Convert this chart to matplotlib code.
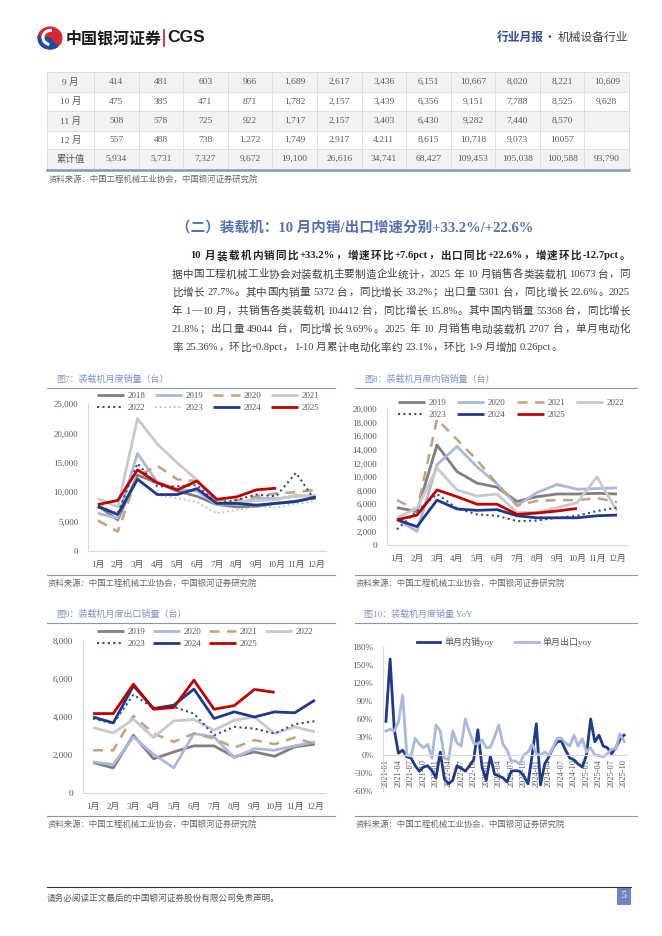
import re
import numpy as np
import matplotlib.pyplot as plt
from matplotlib.patches import Rectangle, Circle, Wedge, Arc
from matplotlib.lines import Line2D

# ---- 表格数据 ----
row_labels = ['9 月', '10 月', '11 月', '12 月', '累计值']
sep_vals = ['414', '481', '603', '966', '1,689', '2,617', '3,436', '6,151', '10,667', '8,020', '8,221', '10,609']
oct_vals = ['475', '385', '471', '871', '1,782', '2,157', '3,439', '6,356', '9,151', '7,788', '8,525', '9,628']
nov_vals = ['508', '578', '725', '922', '1,717', '2,157', '3,403', '6,430', '9,282', '7,440', '8,570', '']
dec_vals = ['557', '488', '738', '1,272', '1,749', '2,917', '4,211', '8,615', '10,718', '9,073', '10057', '']
cum_vals = ['5,934', '5,731', '7,327', '9,672', '19,100', '26,616', '34,741', '68,427', '109,453', '105,038', '100,588', '93,790']

months = ['1月', '2月', '3月', '4月', '5月', '6月', '7月', '8月', '9月', '10月', '11月', '12月']

# 图7 装载机月度销量
years7 = ['2018', '2019', '2020', '2021', '2022', '2023', '2024', '2025']
t2018 = [7700, 5300, 12900, 11600, 10200, 9300, 7900, 7500, 7600, 8100, 8500, 9000]
t2019 = [6400, 5600, 16600, 11700, 10500, 10200, 7900, 8000, 9000, 8900, 9300, 9400]
t2020 = [5200, 3300, 12800, 14500, 12200, 11900, 8600, 8600, 9300, 9800, 10000, 10400]
t2021 = [8900, 7500, 22500, 18200, 15000, 12100, 8300, 8200, 8600, 8700, 9500, 9300]
t2022 = [7400, 6400, 14900, 11000, 11000, 11200, 8100, 8700, 9600, 9300, 13300, 8400]
t2023 = [8200, 6200, 12400, 9500, 9000, 8300, 6400, 7000, 7500, 7400, 8000, 8500]
t2024 = [7600, 6200, 12200, 9600, 9600, 10600, 8100, 8100, 7800, 8100, 8400, 9200]
t2025 = [7900, 8600, 13800, 11600, 10400, 11900, 8800, 9200, 10400, 10673]

# 图8 装载机月度内销销量
years8 = ['2019', '2020', '2021', '2022', '2023', '2024', '2025']
d2019 = [5500, 4900, 14700, 10800, 9100, 8500, 6400, 7100, 7500, 7500, 7600, 7500]
d2020 = [3800, 2000, 11800, 14500, 11500, 9000, 5800, 7700, 8900, 8200, 8300, 8400]
d2021 = [6600, 5100, 18500, 15500, 12500, 9000, 5800, 6500, 6600, 6600, 6900, 6300]
d2022 = [4000, 5400, 11300, 8100, 7200, 7500, 4800, 4800, 5500, 6200, 10000, 5000]
d2023 = [2300, 5000, 7500, 5400, 4500, 4300, 3500, 3600, 4000, 4300, 5000, 5500]
d2024 = [3700, 2700, 6600, 5300, 5100, 5200, 4300, 4000, 4000, 4000, 4300, 4400]
d2025 = [3700, 4400, 8100, 7100, 6000, 6000, 4500, 4700, 5000, 5372]

# 图9 装载机月度出口销量
e2019 = [1600, 1320, 3040, 1800, 2160, 2480, 2480, 1900, 2160, 1930, 2430, 2570]
e2020 = [1630, 1500, 2950, 2040, 1320, 3130, 2950, 1850, 2340, 2250, 2480, 2690]
e2021 = [2250, 2250, 4060, 3130, 2690, 3130, 2860, 2390, 2780, 2570, 2920, 2570]
e2022 = [3440, 3160, 3880, 2920, 3800, 3870, 3300, 3830, 4000, 3130, 3480, 3220]
e2023 = [3920, 3650, 5180, 4450, 4530, 4180, 3040, 3480, 3390, 3130, 3620, 3780]
e2024 = [4000, 3690, 5640, 4450, 4620, 5470, 3920, 4270, 4000, 4270, 4220, 4890]
e2025 = [4180, 4180, 5730, 4410, 4500, 5940, 4410, 4600, 5450, 5301]

# 图10 YoY (2021-01 ~ 2025-10)
yoy_labels = ['2021-01', '2021-04', '2021-07', '2021-10', '2022-01', '2022-04', '2022-07', '2022-10',
              '2023-01', '2023-04', '2023-07', '2023-10', '2024-01', '2024-04', '2024-07', '2024-10',
              '2025-01', '2025-04', '2025-07', '2025-10']
dom_yoy = [56, 160, 42, 3, 8, -3,
           -5, -18, -27, -20, -18, -26,
           -38, 5, -40, -48, -42, -18,
           -22, -27, -18, -8, 42, -20,
           -42, -2, -32, -35, -38, -45,
           -27, -26, -27, -35, -48, 0,
           52, -50, -15, -3, 12, 22,
           23, 8, -5, -8, -15, -20,
           0, 60, 22, 33, 15, 12,
           2, 12, 25.6, 33.2]
exp_yoy = [40, 43, 40, 55, 100, 0,
           -2, 28, 18, 12, 18, -5,
           50, 40, -5, -8, 40, 20,
           15, 60, 38, 20, 18, 25,
           12, 13, 30, 50, 18, 8,
           -10, -10, -15, 0, 5, 18,
           2, 0, 5, 0, 12, 28,
           28, 20, 15, 33, 15, 27,
           5, 12, 0, -1, -3, 2,
           10, 10, 35.3, 22.6]

body_lines = [
    '10 月装载机内销同比+33.2%，增速环比+7.6pct，出口同比+22.6%，增速环比-12.7pct。',
    '据中国工程机械工业协会对装载机主要制造企业统计，2025 年 10 月销售各类装载机 10673 台，同',
    '比增长 27.7%。其中国内销量 5372 台，同比增长 33.2%；出口量 5301 台，同比增长 22.6%。2025',
    '年 1—10 月，共销售各类装载机 104412 台，同比增长 15.8%。其中国内销量 55368 台，同比增长',
    '21.8%；出口量 49044 台，同比增长 9.69%。2025 年 10 月销售电动装载机 2707 台，单月电动化',
    '率 25.36%，环比+0.8pct，1-10 月累计电动化率约 23.1%，环比 1-9 月增加 0.26pct。',
]

SERIF = ['Liberation Serif', 'Noto Sans CJK SC']
CJK = ['Noto Sans CJK SC', 'DejaVu Sans']
plt.rcParams['font.family'] = SERIF

W, H = 662, 936
fig = plt.figure(figsize=(W / 100, H / 100), dpi=100)
fig.patch.set_facecolor('white')
rend = fig.canvas.get_renderer()

GREY_TXT = '#595959'
TITLE_BLUE = '#7F93C4'
RULE = '#8497B0'


def fx(x):
    return x / W


def fy(y):
    return 1 - y / H


def txt(x, y, s, **kw):
    kw.setdefault('va', 'center')
    return fig.text(fx(x), fy(y), s, **kw)


def hline(x0, x1, y, color, lw):
    fig.add_artist(Line2D([fx(x0), fx(x1)], [fy(y), fy(y)], color=color, lw=lw,
                          transform=fig.transFigure))


def vline(x, y0, y1, color, lw):
    fig.add_artist(Line2D([fx(x), fx(x)], [fy(y0), fy(y1)], color=color, lw=lw,
                          transform=fig.transFigure))


def add_ax(x0, y0, x1, y1):
    return fig.add_axes([x0 / W, 1 - y1 / H, (x1 - x0) / W, (y1 - y0) / H])


def text_line(x0, x1, y, s, size, color, weight='normal', justify=True):
    toks = re.findall(r'[\x21-\x7e]+| |[^\x21-\x7e ]', s)
    arts, widths = [], []
    for t in toks:
        if t == ' ':
            arts.append(None)
            widths.append(size * 0.3)
            continue
        a = txt(0, y, t, fontsize=size, color=color, weight=weight, family=SERIF)
        arts.append(a)
        widths.append(a.get_window_extent(renderer=rend).width)
    gap = (x1 - x0 - sum(widths)) / (len(toks) - 1) if justify else 0.3
    x = x0
    for a, w in zip(arts, widths):
        if a is not None:
            a.set_x(fx(x))
        x += w + gap


# ---- 页眉 ----
lax = add_ax(37, 26, 63, 50)
lax.set_xlim(-1.1, 1.1)
lax.set_ylim(-1.1, 1.1)
lax.axis('off')
lax.add_patch(Circle((0, 0), 1, color='#D7282F'))
lax.add_patch(Wedge((0, 0), 1, 170, 310, color='#1D4E9E'))
lax.add_patch(Arc((0.05, 0.05), 1.3, 1.3, theta1=80, theta2=260, lw=2.2, color='white'))
txt(66, 38, '中国银河证券', fontsize=11.5, weight='bold', family=CJK, color='#1a1a1a')
vline(164, 30, 46, '#C0202A', 1.2)
txt(167, 38, 'CGS', fontsize=12.5, weight='bold', family=['Liberation Sans'], color='#1a1a1a')
txt(497, 37, '行业月报', fontsize=8.5, weight='bold', family=CJK, color='#2E4E9A')
txt(549, 37, '·', fontsize=8.5, family=CJK, color='#404040', ha='center')
txt(558, 37, '机械设备行业', fontsize=8.5, family=CJK, color='#404040')

# ---- 表格 ----
tbl_x0, tbl_x1 = 47, 629
lab_w = 47
col_w = (tbl_x1 - tbl_x0 - lab_w) / 12
row_y = [72, 92, 111, 131, 149, 169]
table_rows = [sep_vals, oct_vals, nov_vals, dec_vals, cum_vals]
for r, vals in enumerate(table_rows):
    y0, y1 = row_y[r], row_y[r + 1]
    if r % 2 == 0:
        fig.add_artist(Rectangle((fx(tbl_x0), fy(y1)), (tbl_x1 - tbl_x0) / W, (y1 - y0) / H,
                                 transform=fig.transFigure, facecolor='#F2F2F2', edgecolor='none'))
    yc = (y0 + y1) / 2
    txt(tbl_x0 + lab_w / 2, yc, row_labels[r], fontsize=6.8, color=GREY_TXT, ha='center')
    for c, v in enumerate(vals):
        txt(tbl_x0 + lab_w + col_w * (c + 0.5), yc, v, fontsize=6.8, color=GREY_TXT, ha='center')
for y in row_y[:-1]:
    hline(tbl_x0, tbl_x1, y, '#D9D9D9', 0.6)
for c in range(14):
    x = tbl_x0 if c == 0 else tbl_x0 + lab_w + col_w * (c - 1)
    vline(x, row_y[0], row_y[-1], '#D9D9D9', 0.6)
hline(tbl_x0, tbl_x1, 169.5, RULE, 1.8)
SRC = '资料来源：中国工程机械工业协会，中国银河证券研究院'
txt(49, 179, SRC, fontsize=6, color='#666666', family=CJK, style='italic')

# ---- 标题与正文 ----
txt(176, 228, '（二）装载机：10 月内销/出口增速分别+33.2%/+22.6%', fontsize=10.5, weight='bold',
    color='#5572AE', family=SERIF)
text_line(190, 630, 256, body_lines[0], 7.6, '#222222', weight='bold')
for i, ln in enumerate(body_lines[1:5]):
    text_line(172, 630, 274.5 + 18.3 * i, ln, 7.6, '#404040')
text_line(172, 630, 347.7, body_lines[5], 7.6, '#404040', justify=False)

# ---- 图表样式 ----
NAVY = '#1F3A87'
styles8 = [dict(color='#7F7F7F', lw=2.0),
           dict(color='#A9B8DC', lw=2.0),
           dict(color='#C4A27A', lw=1.8, ls=(0, (4, 3))),
           dict(color='#C9C9C9', lw=2.0),
           dict(color='#2F4A9A', lw=1.5, ls=(0, (1, 1.6))),
           dict(color='#BFBFBF', lw=1.3, ls=(0, (1, 1.6))),
           dict(color=NAVY, lw=2.0),
           dict(color='#C00000', lw=2.0)]
styles7 = [styles8[0], styles8[1], styles8[2], styles8[3], styles8[4], styles8[6], styles8[7]]


def style_axes(ax):
    for s in ['top', 'right']:
        ax.spines[s].set_visible(False)
    for s in ['left', 'bottom']:
        ax.spines[s].set_color('#D9D9D9')
        ax.spines[s].set_linewidth(0.8)
    ax.tick_params(length=0, labelsize=6.5, labelcolor=GREY_TXT)
    ax.set_facecolor('none')


def panel_frame(x0, x1, ytitle, yrule, ybottom, title):
    txt(x0 + 9, ytitle, title, fontsize=6.5, color=TITLE_BLUE, family=SERIF)
    hline(x0, x1, yrule, RULE, 0.8)
    hline(x0, x1, ybottom, RULE, 0.8)
    txt(x0 + 1, ybottom + 8, SRC, fontsize=6, color='#666666', family=CJK, style='italic')


def line_chart(rect, names, series, styles, ymax, ystep, leg_xy, colsp):
    ax = add_ax(*rect)
    handles = []
    for name, vals, st in zip(names, series, styles):
        h, = ax.plot(np.arange(len(vals)), vals, label=name, solid_capstyle='butt', **st)
        handles.append(h)
    ax.set_xlim(-0.5, 11.5)
    ax.set_ylim(0, ymax)
    ax.set_yticks(np.arange(0, ymax + 1, ystep))
    ax.set_yticklabels([f'{v:,.0f}' for v in np.arange(0, ymax + 1, ystep)])
    ax.set_xticks(np.arange(12))
    ax.set_xticklabels(months)
    style_axes(ax)
    ax.tick_params(axis='y', pad=7)
    ax.tick_params(axis='x', pad=7)
    n = len(handles)
    order = [0, 4, 1, 5, 2, 6, 3, 7] if n == 8 else [0, 4, 1, 5, 2, 6, 3]
    x0, y0 = leg_xy
    leg = ax.legend([handles[i] for i in order], [names[i] for i in order], ncol=4,
                    loc='upper left', bbox_to_anchor=(fx(x0), fy(y0)),
                    bbox_transform=fig.transFigure, frameon=False,
                    fontsize=6.5, handlelength=3.0, handletextpad=0.4, columnspacing=colsp,
                    labelspacing=0.4, borderpad=0, borderaxespad=0)
    for t in leg.get_texts():
        t.set_color(GREY_TXT)
    return ax


# 图7
panel_frame(47, 335, 379, 388, 575, '图7：装载机月度销量（台）')
line_chart((88, 404, 325.7, 551), years7, [t2018, t2019, t2020, t2021, t2022, t2023, t2024, t2025],
           styles8, 25000, 5000, (97, 392), 1.05)

# 图8
panel_frame(355, 637, 379, 388, 575, '图8：装载机月度内销销量（台）')
line_chart((387, 409, 627, 545), years8, [d2019, d2020, d2021, d2022, d2023, d2024, d2025],
           styles7, 20000, 2000, (398, 399), 1.2)

# 图9
panel_frame(47, 335, 614, 623, 816, '图9：装载机月度出口销量（台）')
line_chart((83, 641, 325, 793), years8, [e2019, e2020, e2021, e2022, e2023, e2024, e2025],
           styles7, 8000, 2000, (97, 628), 0.85)

# 图10
panel_frame(355, 637, 614, 623, 816, '图10：装载机月度销量 YoY')
ax10 = add_ax(383, 647, 627, 791)
idx = np.arange(len(dom_yoy))
h1, = ax10.plot(idx, dom_yoy, color=NAVY, lw=2.0, label='单月内销yoy')
h2, = ax10.plot(idx, exp_yoy, color='#A9B8DC', lw=2.0, label='单月出口yoy')
ax10.set_xlim(-0.7, len(dom_yoy) - 0.3)
ax10.set_ylim(-60, 180)
ax10.set_yticks(np.arange(-60, 181, 30))
ax10.set_yticklabels([f'{v}%' for v in np.arange(-60, 181, 30)])
ax10.set_xticks(np.arange(0, len(dom_yoy), 3))
ax10.set_xticklabels(yoy_labels)
style_axes(ax10)
ax10.spines['bottom'].set_position(('data', 0))
ax10.tick_params(axis='y', pad=7)
ax10.tick_params(axis='x', pad=3, labelsize=6, labelrotation=90)
leg10 = ax10.legend([h1, h2], ['单月内销yoy', '单月出口yoy'], ncol=2, loc='upper left',
                    bbox_to_anchor=(fx(417), fy(637)), bbox_transform=fig.transFigure,
                    frameon=False, fontsize=6.5, handlelength=2.6, handletextpad=0.4,
                    columnspacing=2.4, borderpad=0, borderaxespad=0)
for t in leg10.get_texts():
    t.set_color(GREY_TXT)

# ---- 页脚 ----
hline(47, 631, 887, '#333333', 0.8)
txt(47, 898, '请务必阅读正文最后的中国银河证券股份有限公司免责声明。', fontsize=6.2, color='#555555', family=CJK)
fig.add_artist(Rectangle((fx(617), fy(905)), 14 / W, 18 / H, transform=fig.transFigure,
                         facecolor='#6F86C0', edgecolor='none'))
txt(624, 896, '5', fontsize=7, color='white', ha='center', family=SERIF)

fig.savefig('out.png', dpi=100, facecolor='white')
